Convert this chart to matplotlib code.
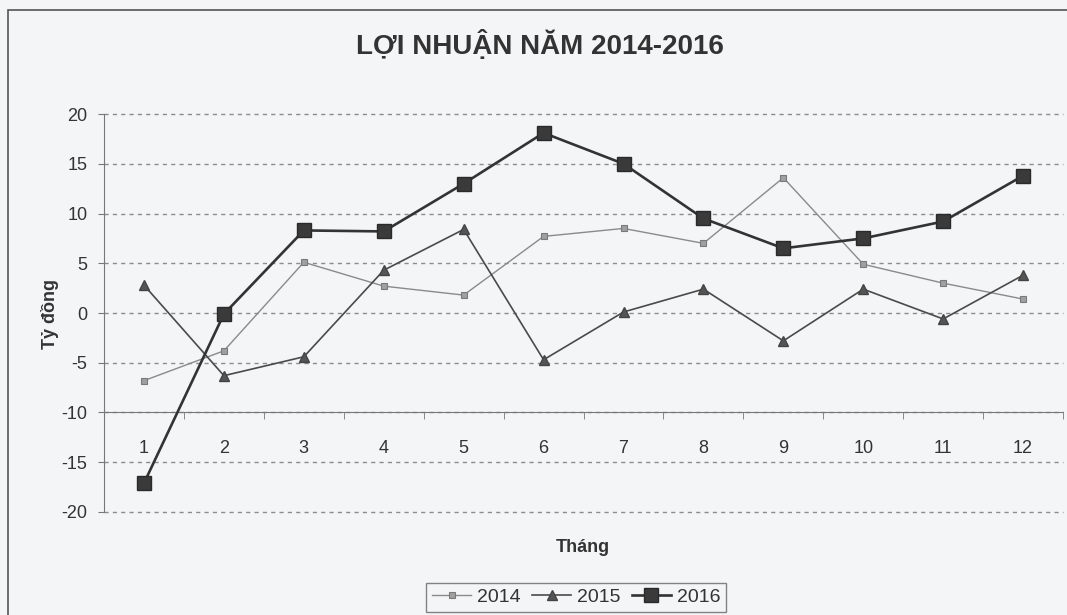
import matplotlib.pyplot as plt
import matplotlib.patches as patches
import numpy as np

months = np.arange(1, 13)
month_labels = [str(m) for m in months]
profit_2014 = [-6.8, -3.8, 5.1, 2.7, 1.8, 7.7, 8.5, 7.0, 13.6, 4.9, 3.0, 1.4]
profit_2015 = [2.8, -6.3, -4.4, 4.3, 8.4, -4.7, 0.1, 2.4, -2.8, 2.4, -0.6, 3.8]
profit_2016 = [-17.1, -0.1, 8.3, 8.2, 13.0, 18.1, 15.0, 9.5, 6.5, 7.5, 9.2, 13.8]

plt.rcParams["font.family"] = ["Liberation Sans", "DejaVu Sans"]
plt.rcParams["axes.unicode_minus"] = False
bg = "#f4f5f6"
text_color = "#333333"

fig = plt.figure(figsize=(10.67, 6.15), dpi=100, facecolor=bg)
ax = fig.add_axes([0.0975, 0.1675, 0.8988, 0.6471], facecolor=bg)

ax.plot(months, profit_2014, color="#8a8a8a", lw=1.0, marker="s", ms=5,
        mfc="#a0a0a0", mec="#7a7a7a", mew=0.8, label="2014", zorder=3)
ax.plot(months, profit_2015, color="#4a4a4a", lw=1.2, marker="^", ms=7,
        mfc="#555555", mec="#444444", label="2015", zorder=3)
ax.plot(months, profit_2016, color="#333333", lw=1.9, marker="s", ms=10,
        mfc="#3a3a3a", mec="#2a2a2a", label="2016", zorder=4)

ax.set_xlim(0.5, 12.5)
ax.set_ylim(-20, 20)
ax.set_yticks(np.arange(-20, 21, 5))
ax.yaxis.grid(True, linestyle=(0, (3, 3)), color="#8c8c8c", lw=1.0)
for gl in ax.get_ygridlines():
    gl.set_clip_on(False)
ax.set_axisbelow(True)

for side in ("top", "right"):
    ax.spines[side].set_visible(False)
ax.spines["left"].set_color("#777777")
ax.spines["bottom"].set_color("#777777")
ax.spines["bottom"].set_position(("data", -10))
ax.spines["bottom"].set_zorder(2)

ax.set_xticks(months)
ax.set_xticklabels(month_labels)
ax.set_xticks(np.arange(1.5, 13, 1), minor=True)
ax.tick_params(axis="x", which="major", length=0, pad=20,
               labelsize=13, labelcolor=text_color)
ax.tick_params(axis="x", which="minor", length=5, color="#777777", direction="out")
ax.tick_params(axis="y", length=4, color="#777777", labelsize=13,
               labelcolor=text_color, pad=8)

fig.text(0.506, 0.927, "LỢI NHUẬN NĂM 2014-2016", ha="center", va="center",
         fontsize=20, fontweight="bold", color=text_color)
fig.text(0.047, 0.49, "Tỷ đồng", ha="center", va="center", rotation=90,
         fontsize=13, fontweight="bold", color=text_color)
fig.text(0.546, 0.109, "Tháng", ha="center", va="center",
         fontsize=13, fontweight="bold", color=text_color)

leg = fig.legend(loc="center", bbox_to_anchor=(0.54, 0.029), ncol=3,
                 fontsize=14, frameon=True, fancybox=False, handlelength=2.0,
                 handletextpad=0.3, columnspacing=0.6, borderpad=0.3)
leg.get_frame().set_edgecolor("#666666")
leg.get_frame().set_facecolor(bg)
for t in leg.get_texts():
    t.set_color(text_color)

frame = patches.Rectangle((8 / 1067, -0.1), 1.2, 1.1 - 10 / 615,
                          transform=fig.transFigure, fill=False,
                          edgecolor="#555555", lw=1.2)
fig.patches.append(frame)

fig.savefig("out.png", dpi=100, facecolor=bg)
